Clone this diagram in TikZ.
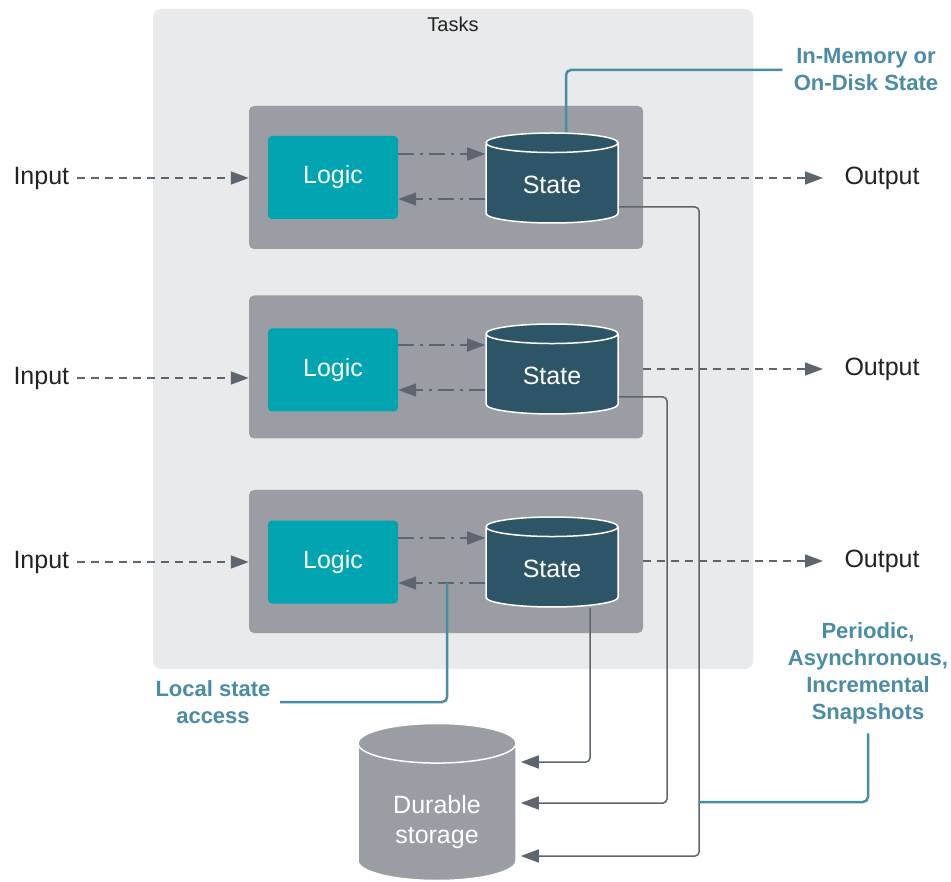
\documentclass[tikz,border=0pt]{standalone}
\usepackage{fontspec}
\setmainfont{Liberation Sans}
\usetikzlibrary{shapes.geometric,arrows.meta,positioning}
\definecolor{tasksbg}{HTML}{E9EAEC}
\definecolor{taskgray}{HTML}{9A9DA3}
\definecolor{logicteal}{HTML}{00A5B1}
\definecolor{statedark}{HTML}{2E5567}
\definecolor{linegray}{HTML}{5D666E}
\definecolor{callblue}{HTML}{4A8CA6}
\definecolor{labelblack}{HTML}{222222}
\tikzset{every node/.append style={font=\fontsize{25}{30}\selectfont, text=labelblack}}

\begin{document}
\begin{tikzpicture}[x=1pt, y=-1pt,
  tasksframe/.style={rectangle, rounded corners=8pt, fill=tasksbg, minimum width=600pt, minimum height=660pt},
  taskbox/.style={rectangle, rounded corners=5pt, fill=taskgray, minimum width=394pt, minimum height=143pt},
  logic/.style={rectangle, rounded corners=4pt, fill=logicteal, text=white, minimum width=130pt, minimum height=83pt},
  statedb/.style={cylinder, shape border rotate=90, aspect=0.3, anchor=shape center, draw=white, line width=1.5pt, fill=statedark, text=white, minimum width=132pt, minimum height=90pt},
  durable/.style={cylinder, shape border rotate=90, aspect=0.42, anchor=shape center, draw=white, line width=1.5pt, fill=taskgray, align=center, minimum width=158pt, minimum height=157pt},
  note/.style={text=callblue, font=\bfseries\fontsize{22}{27}\selectfont, align=center},
  flow/.style={linegray, line width=1.5pt, dash pattern=on 8pt off 6pt, -{Triangle[length=18pt,width=13pt]}},
  access/.style={linegray, line width=1.5pt, dash pattern=on 16pt off 6pt on 3pt off 6pt, -{Triangle[length=18pt,width=13pt]}},
  backup/.style={linegray, line width=1.5pt, rounded corners=4pt, -{Triangle[length=18pt,width=13pt]}},
  callout/.style={callblue, line width=2.5pt, rounded corners=5pt}]

  \useasboundingbox (0,0) rectangle (951,882);

  \node[tasksframe] (tasks) at (453,339) {};
  \node[font=\fontsize{20}{24}\selectfont] (title) at (453,24) {Tasks};

  \node[taskbox] (box1) at (446,177.5) {};
  \node[taskbox] (box2) at (446,367) {};
  \node[taskbox] (box3) at (446,561.5) {};

  \node[logic] (l1) at (333,177.5) {Logic};
  \node[logic] (l2) at (333,370) {Logic};
  \node[logic] (l3) at (333,562) {Logic};

  \node[statedb] (s1) at (552,178) {State};
  \node[statedb] (s2) at (552,369) {State};
  \node[statedb] (s3) at (552,562) {State};

  % cylinder sized by a phantom, text set on its own a bit lower
  \node[durable] (ds) at (437,802) {\phantom{Durable}\\\phantom{storage}};
  \node[text=white, align=center] (dstext) at ([yshift=-20pt]ds.shape center) {Durable\\storage};

  \node[anchor=west] (in1) at (10,178) {Input};
  \node[anchor=west] (in2) at (10,378) {Input};
  \node[anchor=west] (in3) at (10,562) {Input};
  \node[anchor=west] (out1) at (841,178) {Output};
  \node[anchor=west] (out2) at (841,369) {Output};
  \node[anchor=west] (out3) at (841,561) {Output};

  \node[note] (memnote) at (866,70) {In-Memory or\\On-Disk State};
  \node[note] (localnote) at (213,702) {Local state\\access};
  \node[note] (snapnote) at (868,673) {Periodic,\\Asynchronous,\\Incremental\\Snapshots};

  \foreach \i in {1,2,3} {
    \coordinate (sw\i) at (s\i.west |- s\i.shape center);
    \coordinate (se\i) at (s\i.east |- s\i.shape center);
    \draw[flow] ([xshift=4pt]in\i.east) -- (in\i.east -| box\i.west);
    \draw[flow] (box\i.east |- out\i) -- ([xshift=-18pt]out\i.west);
    \draw[access] ([yshift=24pt]l\i.east |- sw\i) -- ([yshift=24pt]sw\i);
    \draw[access] ([yshift=-21pt]sw\i) -- ([yshift=-21pt]l\i.east |- sw\i);
  }

  \coordinate (dse) at (ds.east |- ds.shape center);
  \coordinate (d1) at ([xshift=4pt,yshift=-54pt]dse);
  \coordinate (d2) at ([xshift=4pt,yshift=-1pt]dse);
  \coordinate (d3) at ([xshift=4pt,yshift=40pt]dse);
  \coordinate (bus) at (699,802);

  \draw[backup] ([yshift=-29pt]se1) -| (bus) |- (d1);
  \draw[backup] ([yshift=-28pt]se2) -| (667,803) -- (d2);
  \draw[backup] ([xshift=38pt]s3.south) |- (d3);

  \draw[callout] ([xshift=14pt]s1.north) |- ([xshift=-8pt]memnote.west);
  \draw[callout] ([xshift=6pt]localnote.east) -| ([xshift=49pt,yshift=-21pt]l3.east);
  \draw[callout] ([yshift=-6pt]snapnote.south) |- (bus);

\end{tikzpicture}
\end{document}
